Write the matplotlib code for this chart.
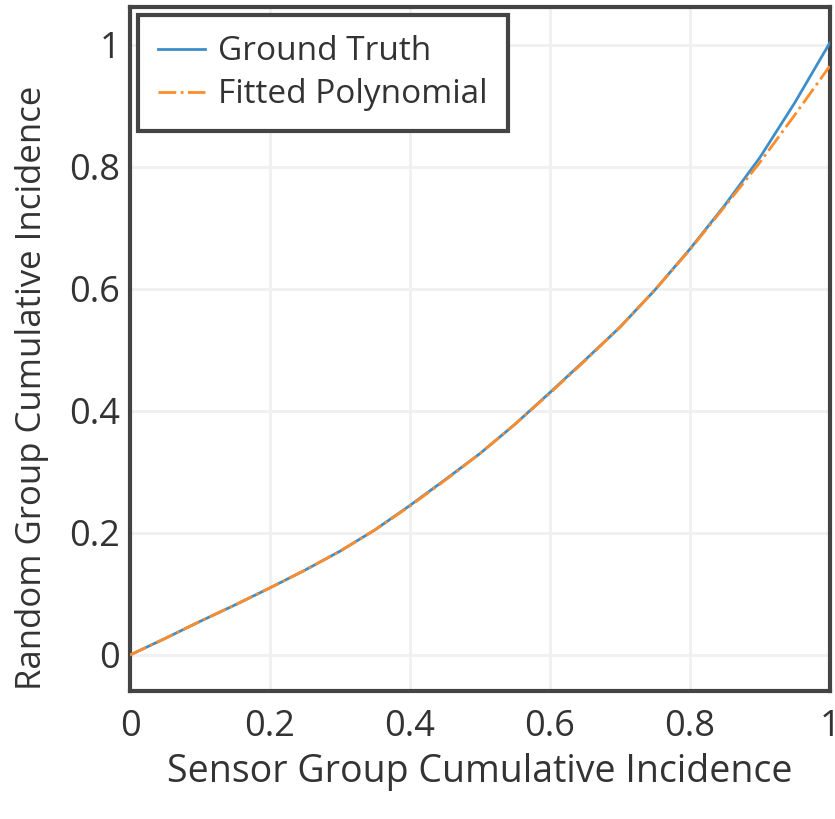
import matplotlib
matplotlib.use("Agg")
import matplotlib.pyplot as plt
from matplotlib.ticker import FuncFormatter

plt.rcParams['font.family'] = ['Open Sans', 'DejaVu Sans']

# values
x_vals = [0.0, 0.05, 0.1, 0.15, 0.2, 0.25, 0.3, 0.35, 0.4, 0.45, 0.5, 0.55,
          0.6, 0.65, 0.7, 0.75, 0.8, 0.85, 0.9, 0.95, 1.0]
ground_truth = [0.0, 0.027, 0.055, 0.082, 0.11, 0.139, 0.17, 0.205, 0.245, 0.287,
                0.33, 0.378, 0.43, 0.483, 0.537, 0.598, 0.665, 0.737, 0.815, 0.905, 1.003]
fitted_poly = [0.0, 0.027, 0.055, 0.082, 0.11, 0.139, 0.17, 0.205, 0.244, 0.286,
               0.33, 0.378, 0.429, 0.482, 0.537, 0.598, 0.664, 0.735, 0.807, 0.885, 0.965]
ticks = [0, 0.2, 0.4, 0.6, 0.8, 1]

fig = plt.figure(figsize=(8.35, 8.19), dpi=100)
ax = fig.add_axes([0.1557, 0.1563, 0.838, 0.8352])

ax.plot(x_vals, ground_truth, color='#3d8ec9', linewidth=2, label='Ground Truth', zorder=3)
ax.plot(x_vals, fitted_poly, color='#ff8c2a', linewidth=2, linestyle='-.',
        label='Fitted Polynomial', zorder=4)

ax.set_xlim(0, 1)
ax.set_ylim(-0.059, 1.062)
ax.set_xticks(ticks)
ax.set_yticks(ticks)
fmt = FuncFormatter(lambda v, p: f'{v:g}')
ax.xaxis.set_major_formatter(fmt)
ax.yaxis.set_major_formatter(fmt)
ax.tick_params(length=0, labelsize=26, labelcolor='#333333')
ax.tick_params(axis='x', pad=13)
ax.tick_params(axis='y', pad=7)
ax.grid(True, color='#f0f0f0', linewidth=2)
ax.set_axisbelow(True)
for s in ax.spines.values():
    s.set_color('#444444')
    s.set_linewidth(3)

ax.set_xlabel('Sensor Group Cumulative Incidence', fontsize=27, color='#333333', labelpad=6)
ax.set_ylabel('Random Group Cumulative Incidence', fontsize=25, color='#333333')
ax.yaxis.set_label_coords(-0.116, 0.443)

leg = ax.legend(loc='upper left', fontsize=24, fancybox=False, framealpha=1,
                borderpad=0.6, labelspacing=0.3, handlelength=1.4, handletextpad=0.4,
                borderaxespad=0.25, labelcolor='#333333')
leg.get_frame().set_edgecolor('#444444')
leg.get_frame().set_linewidth(3)

fig.savefig('out.png', dpi=100)
